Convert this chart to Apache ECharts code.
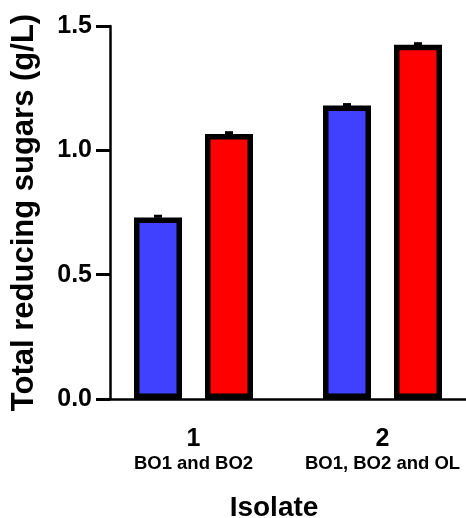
<!DOCTYPE html>
<html>
<head>
<meta charset="utf-8">
<script src="https://cdn.jsdelivr.net/npm/echarts@6/dist/echarts.min.js"></script>
<style>html,body{margin:0;padding:0;background:#fff}#c{width:466px;height:518px}</style>
</head>
<body>
<div id="c"></div>
<script>
const categories = ['1', '2'];
const subLabels = ['BO1 and BO2', 'BO1, BO2 and OL'];
const blueValues = [0.73, 1.18];
const redValues = [1.066, 1.425];
const blueErrors = [0.005, 0.004];
const redErrors = [0.005, 0.004];
const yTicks = [0.0, 0.5, 1.0, 1.5];

const FONT = "'Liberation Sans', Arial, sans-serif";
const BAR_W = 48, BAR_GAP = 23;
const OFF = (BAR_W + BAR_GAP) / 2;

function errSeries(values, errors, side) {
  return {
    type: 'custom',
    z: 5,
    data: values.map((v, i) => [i, v, errors[i]]),
    renderItem: function (params, api) {
      const i = api.value(0), v = api.value(1), e = api.value(2);
      const p0 = api.coord([i, v]);
      const p1 = api.coord([i, v + e]);
      const x = p0[0] + side * OFF;
      return {
        type: 'group',
        children: [
          { type: 'line', shape: { x1: x, y1: p0[1], x2: x, y2: p1[1] }, style: { stroke: '#000', lineWidth: 3 } },
          { type: 'line', shape: { x1: x - 4, y1: p1[1], x2: x + 4, y2: p1[1] }, style: { stroke: '#000', lineWidth: 3 } }
        ]
      };
    }
  };
}

const chart = echarts.init(document.getElementById('c'), null, { renderer: 'canvas' });
chart.setOption({
  animation: false,
  backgroundColor: '#fff',
  grid: { left: 99, top: 26, bottom: 119, width: 378, containLabel: false, outerBoundsMode: 'none' },
  xAxis: {
    type: 'category',
    data: categories,
    axisLine: { lineStyle: { color: '#000', width: 2.5 } },
    axisTick: { alignWithLabel: true, length: 14, lineStyle: { color: '#000', width: 3 } },
    axisLabel: {
      margin: 26,
      formatter: function (v, i) { return '{a|' + v + '}\n{b|' + subLabels[i] + '}'; },
      rich: {
        a: { fontFamily: FONT, fontWeight: 'bold', fontSize: 25, lineHeight: 28, color: '#000' },
        b: { fontFamily: FONT, fontWeight: 'bold', fontSize: 18.5, lineHeight: 22, color: '#000' }
      }
    },
    name: 'Isolate',
    nameLocation: 'middle',
    nameGap: 95,
    nameTextStyle: { fontFamily: FONT, fontWeight: 'bold', fontSize: 28, color: '#000', padding: [0, 28, 0, 0] }
  },
  yAxis: {
    type: 'value',
    min: 0, max: 1.5, interval: 0.5,
    offset: -11,
    splitLine: { show: false },
    axisLine: { show: true, lineStyle: { color: '#000', width: 2.5 } },
    axisTick: { show: true, length: 14, lineStyle: { color: '#000', width: 3 } },
    axisLabel: {
      margin: 18,
      fontFamily: FONT, fontWeight: 'bold', fontSize: 25, color: '#000',
      formatter: v => v.toFixed(1)
    },
    name: 'Total reducing sugars (g/L)',
    nameLocation: 'middle',
    nameGap: 70,
    nameTextStyle: { fontFamily: FONT, fontWeight: 'bold', fontSize: 31, color: '#000' }
  },
  series: [
    {
      type: 'bar', data: blueValues, barWidth: BAR_W, barGap: (BAR_GAP / BAR_W * 100).toFixed(1) + '%',
      itemStyle: { color: '#4040FF', borderColor: '#000', borderWidth: 5.5 }
    },
    {
      type: 'bar', data: redValues, barWidth: BAR_W,
      itemStyle: { color: '#FF0000', borderColor: '#000', borderWidth: 5.5 }
    },
    errSeries(blueValues, blueErrors, -1),
    errSeries(redValues, redErrors, 1)
  ]
});
</script>
</body>
</html>
